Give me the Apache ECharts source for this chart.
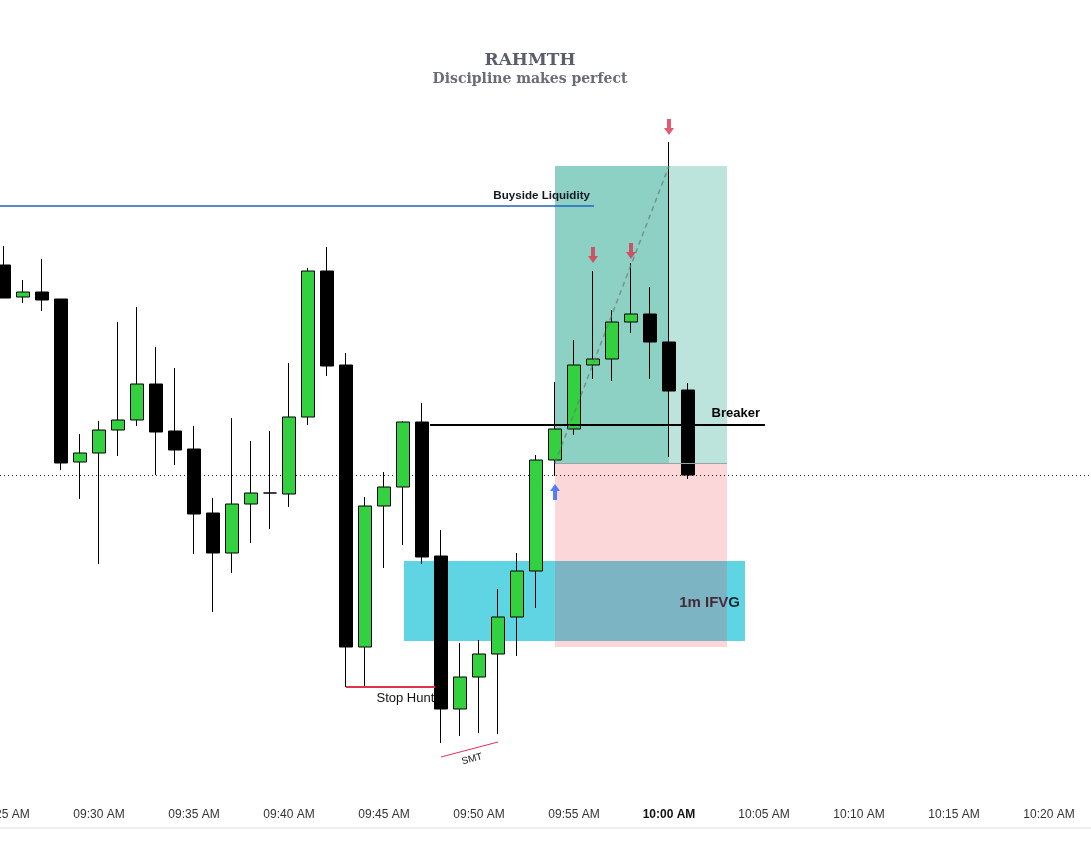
<!DOCTYPE html>
<html><head><meta charset="utf-8">
<script src="https://cdn.jsdelivr.net/npm/echarts@6/dist/echarts.min.js"></script>
<style>html,body{margin:0;padding:0;background:#fff}#c{width:1091px;height:863px}</style>
</head><body><div id="c"></div>
<script>
// 1-minute candles (relative price units; chart has no price scale)
const times  = ['09:25','09:26','09:27','09:28','09:29','09:30','09:31','09:32','09:33','09:34','09:35','09:36','09:37','09:38','09:39','09:40','09:41','09:42','09:43','09:44','09:45','09:46','09:47','09:48','09:49','09:50','09:51','09:52','09:53','09:54','09:55','09:56','09:57','09:58','09:59','10:00','10:01'];
const openV  = [735,703,708,701,538,547,570,580,616,569,551,487,447,496,507,506,583,729,635,353,494,513,578,444,291,323,346,383,429,540,571,635,641,678,686,658,610];
const closeV = [702,708,700,537,547,570,580,616,568,550,486,447,496,507,507,583,729,634,353,494,513,578,443,291,323,346,383,429,540,571,635,641,678,686,658,609,525];
const lowV   = [702,697,689,530,501,436,544,574,525,535,446,388,427,457,471,493,575,624,313,313,432,455,436,257,264,267,266,344,392,524,565,621,619,667,621,543,521];
const highV  = [754,720,741,701,566,579,678,693,653,632,574,502,582,559,569,637,732,753,647,503,528,579,597,470,357,360,411,447,545,618,660,729,690,737,713,858,617];

// key levels (same price units)
const buysideLiquidity = 794;
const breakerLevel = 575;
const entryPrice = 537, targetPrice = 834, stopPrice = 353;
const ifvgLow = 359, ifvgHigh = 439;
const stopHuntLevel = 313;
const smtLows = [243, 258];
// annotation times in minutes after 09:00
const liqStart = 25, liqEnd = 56.05;
const breakerStart = 47.42, breakerEnd = 65.05;
const posStart = 54, posExit = 60, posEnd = 63.05;
const ifvgStart = 46.05, ifvgEnd = 64;
const stopHuntStart = 43, stopHuntEnd = 47.7;
const smtStart = 48, smtEnd = 51;
// arrow marks
const sellArrows = [['09:56',745],['09:58',749],['10:00',873]];
const buyArrows = [['09:54',508]];

const pad = n => String(n).padStart(2,'0');
const axisTimes = [];
for (let m = 25; m <= 82; m++) axisTimes.push(pad(9 + Math.floor(m/60)) + ':' + pad(m % 60));
const candleData = axisTimes.map(t => {
  const i = times.indexOf(t);
  return i < 0 ? '-' : [openV[i], closeV[i], lowV[i], highV[i]];
});
const lastClose = closeV[closeV.length - 1];

const downArrow = 'path://M3,0 L7,0 L7,9 L10,9 L5,16 L0,9 L3,9 Z';
const upArrow = 'path://M5,0 L10,7 L7,7 L7,16 L3,16 L3,7 L0,7 Z';
const sans = 'Liberation Sans, Arial, sans-serif';

const chart = echarts.init(document.getElementById('c'));
chart.setOption({
  animation: false,
  backgroundColor: '#ffffff',
  title: {
    text: 'RAHMTH', subtext: 'Discipline makes perfect',
    left: 525, top: 47, textAlign: 'center', itemGap: 3,
    textStyle: { fontFamily: 'DejaVu Serif', fontWeight: 'bold', fontSize: 17, color: '#5a5e6c' },
    subtextStyle: { fontFamily: 'DejaVu Serif', fontWeight: 'bold', fontSize: 14, color: '#6a6d77' }
  },
  graphic: [{ type: 'rect', shape: { x: 0, y: 827, width: 1091, height: 2 }, style: { fill: '#f0f0f0' }, silent: true }],
  grid: { left: 4, right: 4, top: 0, bottom: 63, containLabel: false, outerBoundsMode: 'none' },
  xAxis: [{
    type: 'category', data: axisTimes, boundaryGap: false,
    axisLine: { show: false }, axisTick: { show: false }, splitLine: { show: false },
    axisLabel: {
      margin: 9, fontSize: 12, fontFamily: sans, color: '#333',
      interval: (idx, val) => Number(val.slice(3)) % 5 === 0,
      formatter: v => v === '10:00' ? '{b|10:00 AM}' : v + ' AM',
      rich: { b: { fontWeight: 'bold', color: '#111', fontSize: 12, fontFamily: sans } }
    }
  }, {
    type: 'value', min: 25, max: 82, show: false
  }],
  yAxis: { type: 'value', min: 200, max: 1000, show: false, splitLine: { show: false } },
  series: [
    { // 1m IFVG zone
      type: 'line', xAxisIndex: 1, data: [], silent: true,
      markArea: {
        z: 1, silent: true,
        itemStyle: { color: '#5fd4e3' },
        label: { show: true, position: 'insideRight', distance: 5, offset: [0, 2], formatter: '1m IFVG', fontFamily: sans, fontSize: 15, fontWeight: 'bold', color: '#1b2631' },
        data: [[{ coord: [ifvgStart, ifvgLow] }, { coord: [ifvgEnd, ifvgHigh] }]]
      }
    },
    { // long position: stop & target zones
      type: 'line', xAxisIndex: 1, data: [], silent: true,
      markArea: {
        z: 1.5, silent: true, label: { show: false },
        data: [
          [{ coord: [posStart, stopPrice], itemStyle: { color: 'rgba(242,54,69,0.2)' } }, { coord: [posEnd, entryPrice] }],
          [{ coord: [posStart, entryPrice], itemStyle: { color: '#8dd1c4' } }, { coord: [posExit, targetPrice] }],
          [{ coord: [posExit, entryPrice], itemStyle: { color: '#bde4dc' } }, { coord: [posEnd, targetPrice] }]
        ]
      }
    },
    {
      type: 'candlestick', z: 3, data: candleData, barWidth: 14, silent: true, clip: false,
      itemStyle: { color: '#33d13f', color0: '#000000', borderColor: '#000000', borderColor0: '#000000', borderWidth: 1 },
      markLine: {
        z: 2.5, silent: true, symbol: ['none', 'none'], label: { show: false },
        lineStyle: { color: '#222', type: [1, 3], width: 1 },
        data: [[{ coord: ['09:25', lastClose], x: 0 }, { coord: ['10:22', lastClose], x: 1091 }]]
      }
    },
    { // drawn lines with labels
      type: 'line', xAxisIndex: 1, data: [], silent: true,
      markLine: {
        z: 6, silent: true, symbol: ['none', 'none'],
        data: [
          [{ coord: [liqStart, buysideLiquidity], x: 0, lineStyle: { color: '#1f62c4', width: 1.5, type: 'solid' },
             label: { show: true, position: 'insideEndTop', distance: 4, formatter: 'Buyside Liquidity', fontFamily: sans, fontSize: 11.6, fontWeight: 'bold', color: '#131722' } },
           { coord: [liqEnd, buysideLiquidity] }],
          [{ coord: [breakerStart, breakerLevel], lineStyle: { color: '#000', width: 2, type: 'solid' },
             label: { show: true, position: 'insideEndTop', distance: 5, formatter: 'Breaker', fontFamily: sans, fontSize: 13, fontWeight: 'bold', color: '#000' } },
           { coord: [breakerEnd, breakerLevel] }],
          [{ coord: [stopHuntStart, stopHuntLevel], lineStyle: { color: '#e0314f', width: 2, type: 'solid' },
             label: { show: true, position: 'insideEndBottom', distance: 5, offset: [4, 0], formatter: 'Stop Hunt', fontFamily: sans, fontSize: 13, color: '#111' } },
           { coord: [stopHuntEnd, stopHuntLevel] }],
          [{ coord: [smtStart, smtLows[0]], lineStyle: { color: '#e0314f', width: 1, type: 'solid' },
             label: { show: true, position: 'insideMiddleBottom', distance: 5, formatter: 'SMT', fontFamily: sans, fontSize: 10, color: '#222' } },
           { coord: [smtEnd, smtLows[1]] }],
          [{ coord: [posStart, entryPrice], lineStyle: { color: '#9aa4a3', width: 1, type: 'solid' }, label: { show: false } },
           { coord: [posEnd, entryPrice] }],
          [{ coord: [posStart, entryPrice], lineStyle: { color: 'rgba(110,125,122,0.75)', width: 1.5, type: [5, 4] }, label: { show: false } },
           { coord: [posExit, targetPrice] }]
        ]
      }
    },
    {
      type: 'scatter', z: 7, silent: true, symbol: downArrow, symbolSize: [10, 16],
      itemStyle: { color: '#e0314f' }, data: sellArrows
    },
    {
      type: 'scatter', z: 7, silent: true, symbol: upArrow, symbolSize: [10, 16],
      itemStyle: { color: '#2962ff' }, data: buyArrows
    }
  ]
});
</script>
</body></html>
